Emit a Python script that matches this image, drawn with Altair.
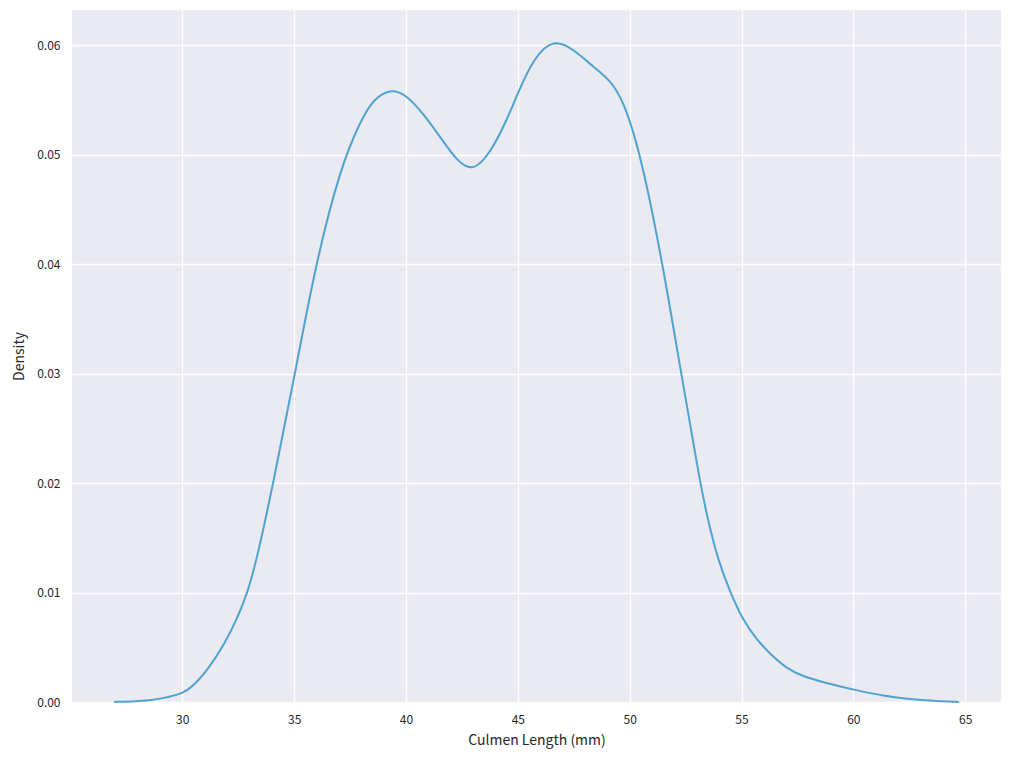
import altair as alt
import pandas as pd

# KDE curve
culmen_mm = [26.95, 28.0, 28.5, 29.0, 29.5, 30.0, 30.42, 31.17, 31.91, 32.43,
             32.92, 33.33, 34.07, 35.04, 35.96, 37.07, 37.97, 38.56, 39.3, 40.0,
             40.79, 41.53, 42.28, 42.99, 43.76, 44.5, 45.0, 45.7, 46.6, 47.5,
             48.38, 49.12, 49.71, 50.5, 51.48, 52.3, 52.67, 53.15, 53.49, 53.94,
             54.5, 55.05, 55.72, 56.32, 57.0, 57.65, 58.84, 60.06, 61.37, 62.56,
             63.6, 64.72]
density = [0.0, 0.00007, 0.00015, 0.0003, 0.0005, 0.0008, 0.0013, 0.003, 0.0054, 0.0075,
           0.01, 0.013, 0.02, 0.03, 0.04, 0.0488, 0.0531, 0.0551, 0.0560, 0.0555,
           0.0537, 0.0516, 0.0494, 0.0484, 0.0501, 0.0531, 0.0556, 0.0588, 0.0606, 0.0596,
           0.058, 0.0568, 0.055, 0.05, 0.04, 0.03, 0.0258, 0.02, 0.0167, 0.013,
           0.01, 0.0075, 0.0056, 0.0043, 0.0031, 0.0024, 0.0017, 0.0011, 0.00055, 0.00025,
           0.0001, 0.0]

x_ticks = [30, 35, 40, 45, 50, 55, 60, 65]
y_ticks = [0.0, 0.01, 0.02, 0.03, 0.04, 0.05, 0.06]

df = pd.DataFrame({"culmen": culmen_mm, "density": density})

font = "Noto Sans CJK KR"

chart = alt.Chart(df).mark_line(
    color="#4ea3cf", strokeWidth=2, interpolate="basis"
).encode(
    x=alt.X("culmen:Q", title="Culmen Length (mm)",
            scale=alt.Scale(domain=[25.07, 66.6], nice=False, zero=False),
            axis=alt.Axis(values=x_ticks, format="d", titlePadding=8)),
    y=alt.Y("density:Q", title="Density",
            scale=alt.Scale(domain=[0, 0.0632], nice=False),
            axis=alt.Axis(values=y_ticks, format=".2f", titlePadding=10)),
).properties(
    width=929,
    height=692,
    autosize=alt.AutoSizeParams(type="none"),
    padding={"left": 64, "top": 2, "right": 1, "bottom": 50},
).configure_view(
    fill="#eaeaf2", stroke=None
).configure_axis(
    domain=False,
    ticks=False,
    grid=True,
    gridColor="white",
    gridWidth=1.3,
    labelFont=font,
    labelFontSize=12,
    labelColor="#262626",
    labelPadding=12,
    titleFont=font,
    titleFontSize=14,
    titleFontWeight="normal",
    titleColor="#262626",
)

chart.save("out.html", embed_options={"renderer": "svg", "actions": False})
